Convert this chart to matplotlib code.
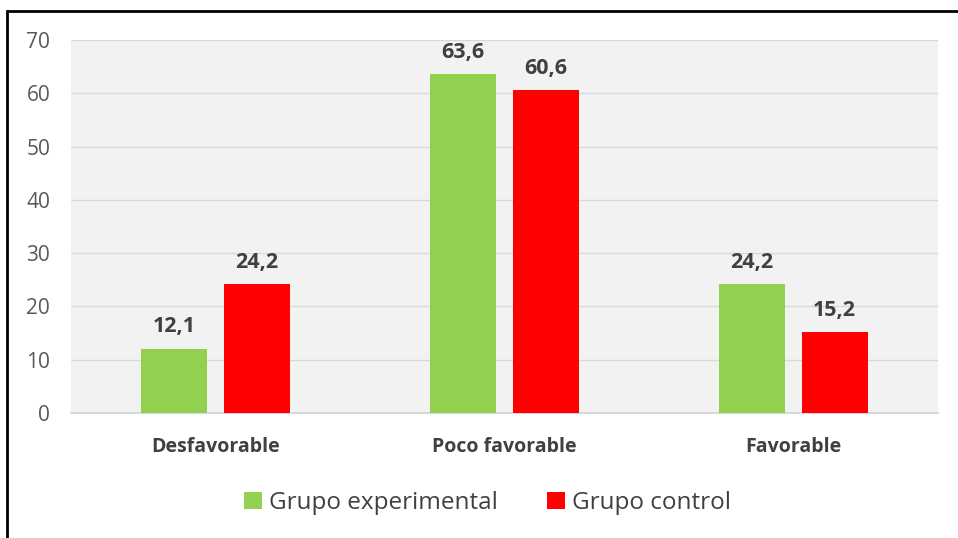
import numpy as np
import matplotlib.pyplot as plt
from matplotlib.patches import Rectangle

categories = ['Desfavorable', 'Poco favorable', 'Favorable']
experimental = [12.1, 63.6, 24.2]
control = [24.2, 60.6, 15.2]
labels_exp = ['12,1', '63,6', '24,2']
labels_ctrl = ['24,2', '60,6', '15,2']

plt.rcParams['font.family'] = 'Open Sans'

fig = plt.figure(figsize=(9.58, 5.38), dpi=100)
ax = fig.add_axes([0.0741, 0.2323, 0.9049, 0.6934])
ax.set_facecolor('#F2F2F2')

x = np.arange(len(categories))
w = 0.228
off = 0.143
b1 = ax.bar(x - off, experimental, w, color='#92D050', label='Grupo experimental', zorder=3)
b2 = ax.bar(x + off, control, w, color='#FF0000', label='Grupo control', zorder=3)

for bars, labs in [(b1, labels_exp), (b2, labels_ctrl)]:
    for rect, lab in zip(bars, labs):
        ax.annotate(lab, (rect.get_x() + rect.get_width() / 2, rect.get_height()),
                    xytext=(0, 8), textcoords='offset points', ha='center', va='bottom',
                    fontsize=15.5, fontweight='bold', color='#404040')

ax.set_xlim(-0.5, 2.5)
ax.set_ylim(0, 70)
ax.set_yticks(range(0, 71, 10))
ax.yaxis.grid(True, color='#D9D9D9', linewidth=1)
ax.set_axisbelow(True)
for s in ['top', 'right', 'left']:
    ax.spines[s].set_visible(False)
ax.spines['bottom'].set_color('#D9D9D9')
ax.spines['bottom'].set_linewidth(1.5)
ax.tick_params(axis='y', length=0, pad=15, labelsize=15, labelcolor='#595959')
ax.tick_params(axis='x', length=0, pad=17, labelcolor='#404040')
ax.set_xticks(x)
ax.set_xticklabels(categories, fontsize=14, fontweight='bold')

ax.legend(loc='center', bbox_to_anchor=(0.509, 0.065), bbox_transform=fig.transFigure,
          ncol=2, frameon=False, fontsize=17.5, handlelength=0.75, handleheight=0.75,
          handletextpad=0.3, columnspacing=2.0, labelcolor='#404040')

fig.patches.append(Rectangle((7 / 958, -0.1), 1.2, 1 - 11 / 538 + 0.1,
                             transform=fig.transFigure, fill=False,
                             edgecolor='black', linewidth=2))

plt.savefig('out.png', dpi=100)
